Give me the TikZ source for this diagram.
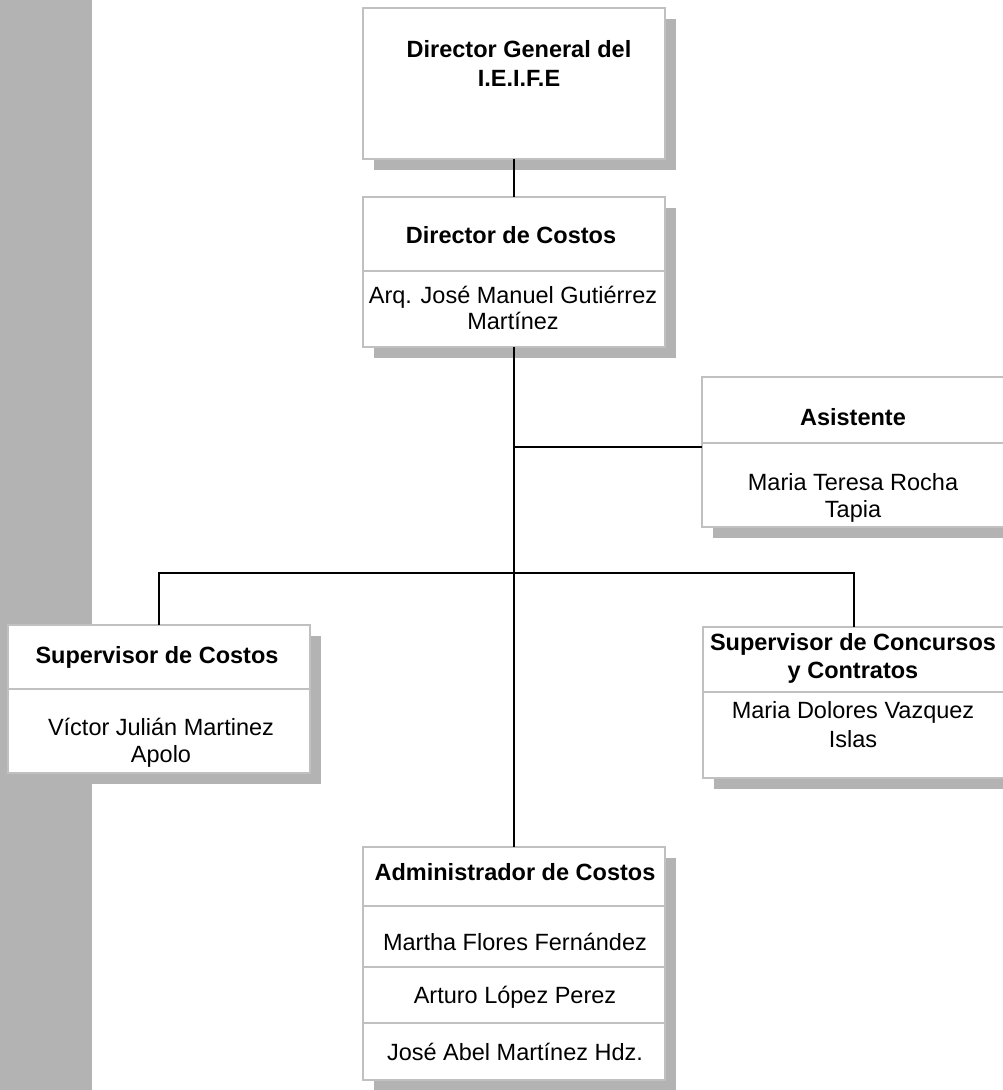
\documentclass[tikz,border=0pt]{standalone}
\usepackage{fontspec}
\setmainfont{Liberation Sans}
\usetikzlibrary{shadows}
\definecolor{bargray}{HTML}{B3B3B3}
\definecolor{edgegray}{HTML}{C0C0C0}

\begin{document}
\begin{tikzpicture}[x = 1pt, y = -1pt,
    orgbox/.style = {draw = edgegray, line width = 2pt, fill = white, inner sep = 0pt, outer sep = 0pt,
        anchor = north west, minimum width = 302pt,
        drop shadow = {shadow xshift = 11pt, shadow yshift = -11pt, fill = bargray, opacity = 1}},
    hdr/.style = {anchor = base, inner sep = 0pt, font = \fontsize{23.5}{27}\selectfont\bfseries},
    person/.style = {anchor = base, inner sep = 0pt, font = \fontsize{23.5}{27}\selectfont},
    divider/.style = {edgegray, line width = 2pt},
    link/.style = {black, line width = 2pt}]
    \useasboundingbox (0,0) rectangle (1003,1090);
    \fill[bargray] (0,0) rectangle (92,1090);

    % boxes
    \node[orgbox, minimum height = 151pt] (dirgen) at (363,8) {};
    \node[orgbox, minimum height = 150pt] (dircos) at (363,197) {};
    \node[orgbox, minimum height = 150pt] (asist) at (702,377) {};
    \node[orgbox, minimum height = 148pt] (supcos) at (8,625) {};
    \node[orgbox, minimum height = 151pt] (supcon) at (703,627) {};
    \node[orgbox, minimum height = 233pt] (admin) at (363,847) {};

    \draw[divider] (363,271) -- (665,271);
    \draw[divider] (702,443) -- (1004,443);
    \draw[divider] (8,689) -- (310,689);
    \draw[divider] (703,692) -- (1005,692);
    \foreach \y in {906,967,1023}
        \draw[divider] (363,\y) -- (665,\y);

    % texts
    \node[hdr] (dirgen-t1) at (519,57) {Director General del};
    \node[hdr] (dirgen-t2) at (519,86) {I.E.I.F.E};

    \node[hdr] (dircos-t) at (511,243) {Director de Costos};
    \node[person] (dircos-n1) at (513,303) {Arq. José Manuel Gutiérrez};
    \node[person] (dircos-n2) at (513,329) {Martínez};

    \node[hdr] (asist-t) at (853,425) {Asistente};
    \node[person] (asist-n1) at (853,490) {Maria Teresa Rocha};
    \node[person] (asist-n2) at (853,517) {Tapia};

    \node[hdr] (supcos-t) at (157,663) {Supervisor de Costos};
    \node[person] (supcos-n1) at (161,735) {Víctor Julián Martinez};
    \node[person] (supcos-n2) at (161,762) {Apolo};

    \node[hdr] (supcon-t1) at (853,650) {Supervisor de Concursos};
    \node[hdr] (supcon-t2) at (853,678) {y Contratos};
    \node[person] (supcon-n1) at (853,718) {Maria Dolores Vazquez};
    \node[person] (supcon-n2) at (853,747) {Islas};

    \node[hdr] (admin-t) at (515,880) {Administrador de Costos};
    \node[person] (admin-n1) at (515,950) {Martha Flores Fernández};
    \node[person] (admin-n2) at (515,1003) {Arturo López Perez};
    \node[person] (admin-n3) at (515,1060) {José Abel Martínez Hdz.};

    % connectors
    \draw[link] (dirgen.south) -- (dircos.north);
    \draw[link] (dircos.south) -- (admin.north);
    \coordinate (jasist) at (514,447);
    \draw[link] (jasist) -- (jasist -| asist.west);
    \coordinate (jsup) at (514,573);
    \draw[link] (supcos.north) |- (jsup) -| (supcon.north);
\end{tikzpicture}
\end{document}
